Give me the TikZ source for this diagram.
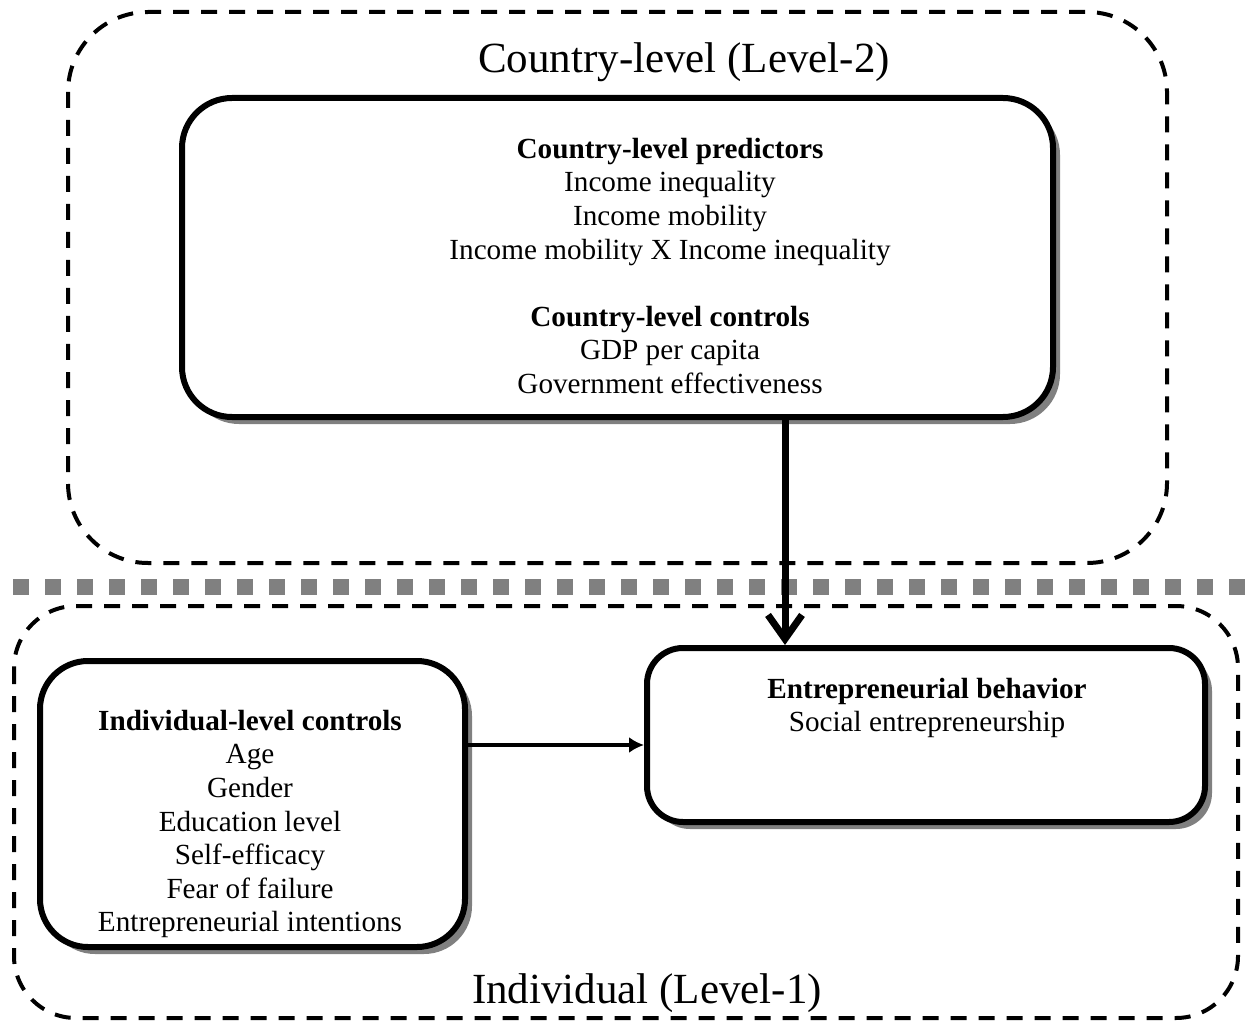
\documentclass[tikz,border=0pt]{standalone}
\usepackage{fontspec}
\setmainfont{Liberation Serif}
\usetikzlibrary{arrows.meta,shadows}

\begin{document}
\begin{tikzpicture}[x=0.5pt, y=-0.5pt,
    every node/.style={font=\fontsize{14.6}{16.8}\selectfont, align=center, inner sep=0pt},
    zone/.style={line width=2pt, dash pattern=on 8pt off 6pt},
    levelbox/.style={draw, fill=white, line width=3pt,
      drop shadow={shadow xshift=3.5pt, shadow yshift=-3.5pt, fill=gray, opacity=1}},
    zonetitle/.style={font=\fontsize{21.5}{24}\selectfont}]
  \useasboundingbox (0,0) rectangle (1246,1021);

  % level zones
  \draw[zone, rounded corners=40pt] (68,12) rectangle (1167,563);
  \draw[zone, rounded corners=31pt] (14,606) rectangle (1238,1018);
  \draw[gray, line width=8pt, dash pattern=on 8pt off 8pt] (13,587) -- (1246,587);

  \node[zonetitle] (countrytitle) at (684,62) {Country-level (Level-2)};
  \node[zonetitle] (indivtitle) at (647,993) {Individual (Level-1)};

  % boxes
  \node[levelbox, rounded corners=25pt, minimum width=435.5pt, minimum height=159.5pt]
    (cbox) at (617.5,257.5) {};
  \node[levelbox, rounded corners=24pt, minimum width=212.5pt, minimum height=143pt]
    (ibox) at (252.5,804) {};
  \node[levelbox, rounded corners=18pt, minimum width=279pt, minimum height=87pt]
    (ebox) at (926,735) {};

  % box texts
  \node (ctext) at (670,266) {\textbf{Country-level predictors}\\
    Income inequality\\ Income mobility\\
    Income mobility X Income inequality\\[16.8pt]
    \textbf{Country-level controls}\\ GDP per capita\\ Government effectiveness};
  \node (itext) at (250,824) {\textbf{Individual-level controls}\\ Age\\ Gender\\
    Education level\\ Self-efficacy\\ Fear of failure\\ Entrepreneurial intentions};
  \node (etext) at (927,708) {\textbf{Entrepreneurial behavior}\\ Social entrepreneurship};

  % effects
  \coordinate (drop) at (785,0);
  \coordinate (link) at (0,745);
  \draw[line width=3.5pt, -{Straight Barb[length=12pt, width=17pt]}]
    (cbox.south -| drop) -- (ebox.north -| drop);
  \draw[line width=2pt, -{Latex[length=7.5pt, width=8pt]}]
    (ibox.east |- link) -- (ebox.west |- link);
\end{tikzpicture}
\end{document}
